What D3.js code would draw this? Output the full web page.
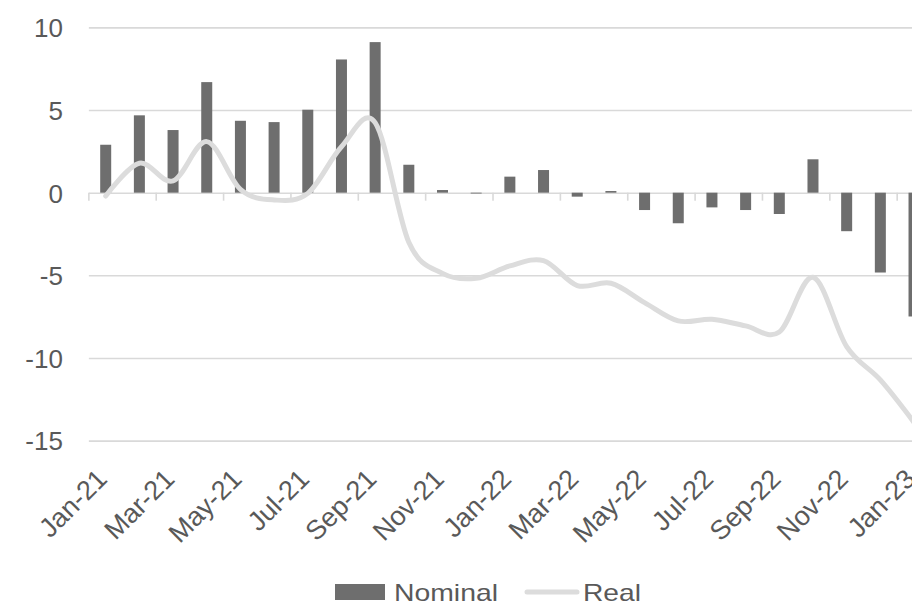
<!DOCTYPE html>
<html><head><meta charset="utf-8">
<script src="https://cdn.jsdelivr.net/npm/d3@7"></script>
<style>
body{margin:0;background:#fff;overflow:hidden;}
svg{display:block;font-family:"Liberation Sans",Arial,sans-serif;}
</style>
</head><body>
<svg id="chart" width="912" height="604"></svg>
<script>
const months = ["Jan-21","Feb-21","Mar-21","Apr-21","May-21","Jun-21","Jul-21","Aug-21","Sep-21","Oct-21","Nov-21","Dec-21",
  "Jan-22","Feb-22","Mar-22","Apr-22","May-22","Jun-22","Jul-22","Aug-22","Sep-22","Oct-22","Nov-22","Dec-22","Jan-23"];
const nominal = [2.9,4.68,3.79,6.69,4.35,4.27,5.02,8.06,9.11,1.69,0.16,-0.05,
  0.97,1.37,-0.24,0.1,-1.05,-1.85,-0.89,-1.05,-1.29,2.02,-2.33,-4.83,-7.49];
const real = [-0.2,1.78,0.71,3.09,0.2,-0.44,-0.04,2.78,4.24,-3.0,-4.88,-5.18,
  -4.43,-4.11,-5.62,-5.48,-6.65,-7.76,-7.66,-8.06,-8.43,-5.12,-9.31,-11.33,-13.9];
const yTicks = [10,5,0,-5,-10,-15];
const xLabels = months.filter((m,i)=>i%2===0);
const seriesNames = ["Nominal","Real"];

const barColor = "#6e6e6e", lineColor = "#dcdcdc", gridColor = "#d9d9d9", textColor = "#595959";
const svg = d3.select("#chart");
const x0 = 88.86, band = 33.68;
const x = d3.scaleBand().domain(months).range([x0, x0 + band*months.length]).padding(0);
const y = d3.scaleLinear().domain([-15,10]).range([440.6, 27.4]);
const plotRight = x0 + band*months.length;

// y axis with gridlines
const yAxis = svg.append("g").attr("transform",`translate(${x0},0)`)
  .call(d3.axisLeft(y).tickValues(yTicks).tickSize(-(plotRight-x0)).tickPadding(26).tickFormat(d=>String(d)));
yAxis.select(".domain").remove();
yAxis.selectAll("line").attr("stroke",gridColor).attr("stroke-width",1.6);
yAxis.selectAll("text").attr("fill",textColor).style("font-size","26px").attr("dy","0.36em");

// x tick marks at band boundaries every 2 categories
svg.append("g").selectAll("line").data(xLabels).join("line")
  .attr("x1",d=>x(d)).attr("x2",d=>x(d)).attr("y1",y(0)).attr("y2",y(0)+8)
  .attr("stroke",gridColor).attr("stroke-width",1.6);

// bars
const bw = 11;
svg.append("g").selectAll("rect").data(months.map((m,i)=>({m,v:nominal[i]}))).join("rect")
  .attr("x",d=>x(d.m)+x.bandwidth()/2-bw/2).attr("width",bw)
  .attr("y",d=>y(Math.max(0,d.v))).attr("height",d=>Math.abs(y(d.v)-y(0)))
  .attr("fill",barColor);

// line
const line = d3.line().x((d,i)=>x(months[i])+x.bandwidth()/2).y(d=>y(d)).curve(d3.curveCardinal.tension(0));
svg.append("path").datum(real).attr("d",line).attr("fill","none")
  .attr("stroke",lineColor).attr("stroke-width",5).attr("stroke-linejoin","round").attr("stroke-linecap","round");

// x labels
const xAxis = svg.append("g").attr("transform",`translate(0,${y(-15)})`)
  .call(d3.axisBottom(x).tickValues(xLabels).tickSize(0));
xAxis.select(".domain").remove();
xAxis.selectAll("text").attr("fill",textColor).style("font-size","27px")
  .attr("x",0).attr("y",0).attr("dy",0).attr("text-anchor","end")
  .attr("transform","translate(3,40) rotate(-45)");

// legend
const lg = svg.append("g");
lg.append("rect").attr("x",335).attr("y",584).attr("width",50).attr("height",16).attr("fill",barColor);
lg.append("text").attr("x",394).attr("y",600.5).text(seriesNames[0]).attr("fill",textColor).style("font-size","24px")
  .attr("textLength",104).attr("lengthAdjust","spacingAndGlyphs");
lg.append("line").attr("x1",527).attr("x2",577).attr("y1",592).attr("y2",592).attr("stroke",lineColor).attr("stroke-width",5).attr("stroke-linecap","round");
lg.append("text").attr("x",583).attr("y",600.5).text(seriesNames[1]).attr("fill",textColor).style("font-size","24px")
  .attr("textLength",58).attr("lengthAdjust","spacingAndGlyphs");
</script>
</body></html>
